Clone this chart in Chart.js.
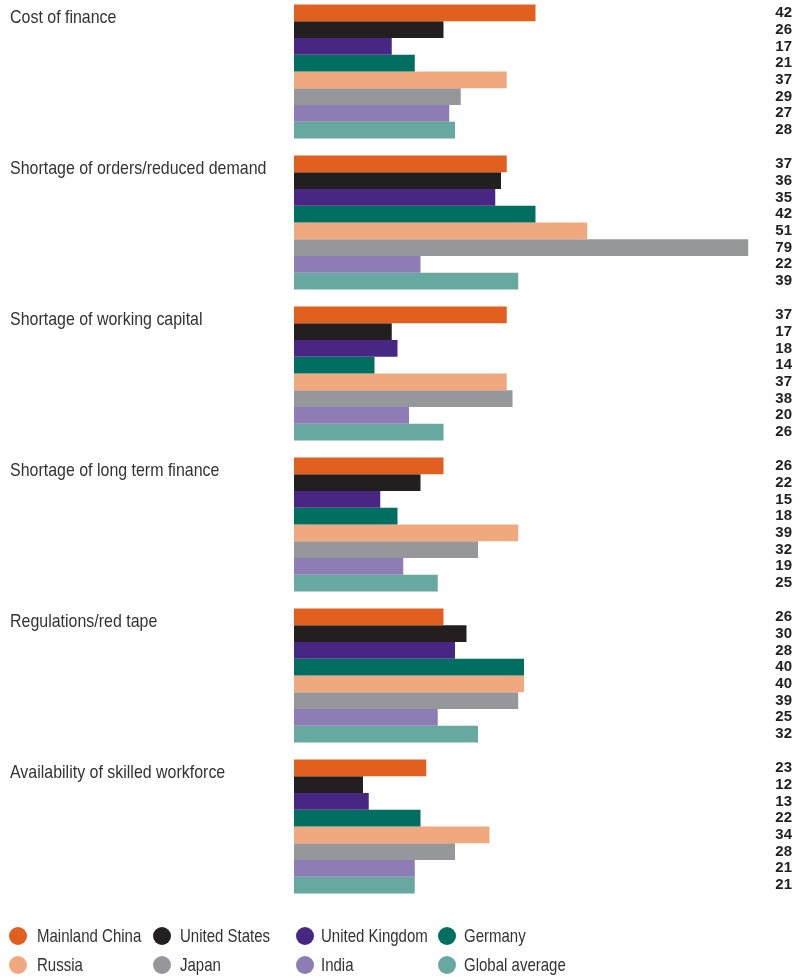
<!DOCTYPE html>
<html>
<head>
<meta charset="utf-8">
<script src="https://cdn.jsdelivr.net/npm/chart.js@4/dist/chart.umd.min.js"></script>
<style>
  html, body { margin: 0; padding: 0; background: #fff; }
  body { width: 807px; height: 978px; position: relative; overflow: hidden; }
  #wrap { position: absolute; left: 0; top: -4px; width: 807px; height: 910px; }
  #legend { position: absolute; left: 0; top: 0; width: 807px; height: 978px; pointer-events: none; }
  .item { position: absolute; font-family: "Liberation Sans", Arial, sans-serif; font-size: 19px; color: #333333; white-space: nowrap; line-height: 20px; transform: scaleX(0.79); transform-origin: 0 50%; }
  .dot { position: absolute; width: 18px; height: 18px; border-radius: 50%; }
</style>
</head>
<body>
<div id="wrap"><canvas id="c" width="807" height="910"></canvas></div>
<div id="legend"></div>
<script>
const categories = [
  "Cost of finance",
  "Shortage of orders/reduced demand",
  "Shortage of working capital",
  "Shortage of long term finance",
  "Regulations/red tape",
  "Availability of skilled workforce"
];
const seriesNames = ["Mainland China", "United States", "United Kingdom", "Germany", "Russia", "Japan", "India", "Global average"];
const seriesColors = ["#E1601F", "#231F20", "#482683", "#006F62", "#F0A97E", "#96979B", "#8E7DB4", "#67A8A0"];

const mainlandChina = [42, 37, 37, 26, 26, 23];
const unitedStates  = [26, 36, 17, 22, 30, 12];
const unitedKingdom = [17, 35, 18, 15, 28, 13];
const germany       = [21, 42, 14, 18, 40, 22];
const russia        = [37, 51, 37, 39, 40, 34];
const japan         = [29, 79, 38, 32, 39, 28];
const india         = [27, 22, 20, 19, 25, 21];
const globalAverage = [28, 39, 26, 25, 32, 21];

const seriesValues = [mainlandChina, unitedStates, unitedKingdom, germany, russia, japan, india, globalAverage];

const labelFont = '19px "Liberation Sans", Arial, sans-serif';
const valueFont = 'bold 15px "Liberation Sans", Arial, sans-serif';

const annotate = {
  id: 'annotate',
  afterDatasetsDraw(chart) {
    const ctx = chart.ctx;
    ctx.save();
    // values on the right
    ctx.font = valueFont;
    ctx.fillStyle = '#231F20';
    ctx.textAlign = 'right';
    ctx.textBaseline = 'middle';
    chart.data.datasets.forEach((ds, di) => {
      const meta = chart.getDatasetMeta(di);
      meta.data.forEach((el, i) => {
        ctx.fillText(String(ds.data[i]), 792, el.y);
      });
    });
    // category labels
    ctx.font = labelFont;
    ctx.fillStyle = '#333333';
    ctx.textAlign = 'left';
    ctx.textBaseline = 'alphabetic';
    const first = chart.getDatasetMeta(0);
    categories.forEach((cat, i) => {
      const el = first.data[i];
      const top = el.y - el.height / 2;
      ctx.save();
      ctx.translate(10, top + 18);
      ctx.scale(0.84, 1);
      ctx.fillText(cat, 0, 0);
      ctx.restore();
    });
    ctx.restore();
  }
};

new Chart(document.getElementById('c'), {
  type: 'bar',
  data: {
    labels: categories,
    datasets: seriesNames.map((n, i) => ({
      label: n,
      data: seriesValues[i],
      backgroundColor: seriesColors[i],
      borderWidth: 0,
      barPercentage: 1.0,
      categoryPercentage: 0.887
    }))
  },
  options: {
    indexAxis: 'y',
    responsive: false,
    animation: false,
    devicePixelRatio: 1,
    layout: { padding: { left: 294, right: 53, top: 0, bottom: 4 } },
    scales: {
      x: { display: false, min: 0, max: 80, grid: { display: false } },
      y: { display: false, grid: { display: false } }
    },
    plugins: { legend: { display: false }, tooltip: { enabled: false } }
  },
  plugins: [annotate]
});

// legend
const legend = document.getElementById('legend');
const colDot = [18, 162, 305, 447];
const colText = [37, 180, 321, 464];
const rowY = [936, 965];
seriesNames.forEach((n, i) => {
  const r = Math.floor(i / 4), c = i % 4;
  const d = document.createElement('div');
  d.className = 'dot';
  d.style.background = seriesColors[i];
  d.style.left = (colDot[c] - 9) + 'px';
  d.style.top = (rowY[r] - 9) + 'px';
  legend.appendChild(d);
  const t = document.createElement('div');
  t.className = 'item';
  t.textContent = n;
  t.style.left = colText[c] + 'px';
  t.style.top = (rowY[r] - 10) + 'px';
  legend.appendChild(t);
});
</script>
</body>
</html>
